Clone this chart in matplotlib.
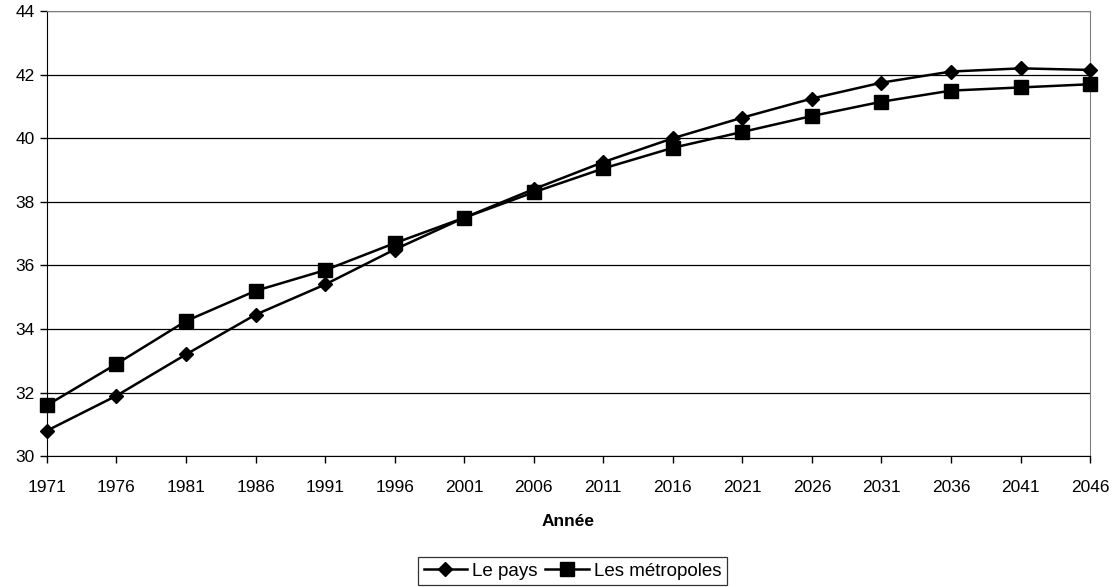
import matplotlib
matplotlib.use('Agg')
import matplotlib.pyplot as plt

plt.rcParams['font.family'] = ['Liberation Sans', 'DejaVu Sans']

annees = [1971, 1976, 1981, 1986, 1991, 1996, 2001, 2006, 2011, 2016,
          2021, 2026, 2031, 2036, 2041, 2046]
le_pays = [30.8, 31.9, 33.2, 34.45, 35.4, 36.5, 37.5, 38.4, 39.25, 40.0,
           40.65, 41.25, 41.75, 42.1, 42.2, 42.15]
metropoles = [31.6, 32.9, 34.25, 35.2, 35.85, 36.7, 37.5, 38.3, 39.05, 39.7,
              40.2, 40.7, 41.15, 41.5, 41.6, 41.7]

fig = plt.figure(figsize=(11.18, 5.87), dpi=100)
ax = fig.add_axes([0.042, 0.223, 0.933, 0.758])

ax.plot(annees, le_pays, color='black', lw=1.8, marker='D', ms=7.5,
        label='Le pays', clip_on=False, zorder=3)
ax.plot(annees, metropoles, color='black', lw=1.8, marker='s', ms=9.5,
        label='Les métropoles', clip_on=False, zorder=3)

ax.set_xlim(1971, 2046)
ax.set_ylim(30, 44)
ax.set_xticks(annees)
ax.set_yticks(range(30, 45, 2))
ax.tick_params(labelsize=12.5, direction='out', length=5, width=1)
ax.tick_params(axis='x', pad=12)
ax.tick_params(axis='y', pad=4)
ax.yaxis.grid(True, color='black', lw=0.9)
ax.set_axisbelow(True)

for s in ['top', 'right']:
    ax.spines[s].set_color('#808080')
ax.spines['left'].set_color('black')
ax.spines['bottom'].set_color('black')

ax.set_xlabel('Année', fontsize=12.5, fontweight='bold', labelpad=14)

leg = ax.legend(loc='upper center', bbox_to_anchor=(0.504, -0.227), ncol=2,
                fontsize=13.5, frameon=True, fancybox=False, edgecolor='black',
                handlelength=2.3, handletextpad=0.3, columnspacing=0.4,
                borderpad=0.3, borderaxespad=0)
leg.get_frame().set_linewidth(0.9)

fig.savefig('out.png', dpi=100)
